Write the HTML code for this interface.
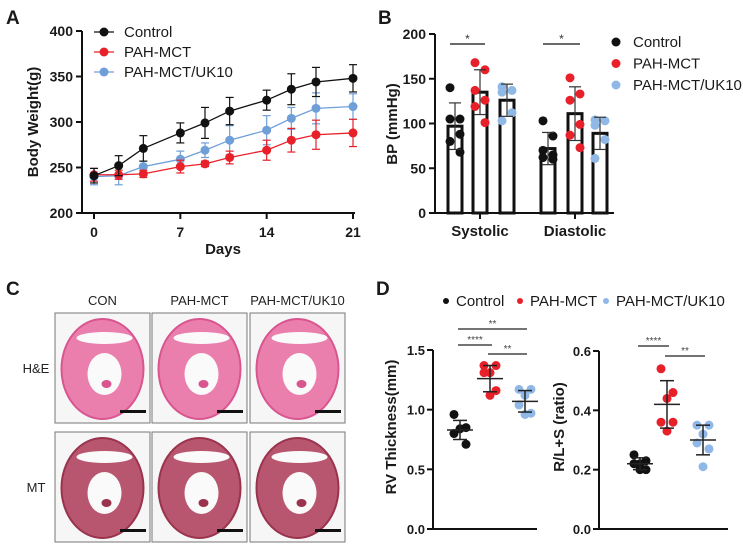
<!DOCTYPE html>
<html><head><meta charset="utf-8">
<style>
html,body{margin:0;padding:0;background:#fff;}
svg{display:block;font-family:"Liberation Sans",Arial,sans-serif;}
.tick{font-size:14px;font-weight:bold;fill:#1a1a1a;}
.tickd{font-size:13px;font-weight:bold;fill:#1a1a1a;}
.ttl{font-size:15px;font-weight:bold;fill:#1a1a1a;}
.leg{font-size:15px;fill:#1a1a1a;}
.lett{font-size:19px;font-weight:bold;fill:#1a1a1a;}
</style></head>
<body>
<svg id="fig" width="743" height="546" viewBox="0 0 743 546">
<text class="lett" x="6" y="24">A</text>
<text class="lett" x="378" y="24">B</text>
<text class="lett" x="6" y="295">C</text>
<text class="lett" x="376" y="295">D</text>
<g id="pa"></g>
<g id="pb"></g>
<g id="pc"></g>
<g id="pd"></g>
</svg>
<script>
// ---------- DATA ----------
const days = [0,2,4,7,9,11,14,16,18,21];
const ctrlW = [241,252,271,288,299,312,324,336,344,348];
const ctrlE = [8,11,14,11,17,15,11,17,16,15];
const mctW = [242,242,243,251,254,261,269,280,286,288];
const mctE = [7,5,4,7,3,7,11,13,16,15];
const ukW = [240,241,251,259,269,280,291,304,315,317];
const ukE = [9,10,6,9,8,16,16,12,17,14];
const aYTicks = [200,250,300,350,400];
const aXTicks = [0,7,14,21];

const bpCategories = ["Systolic","Diastolic"];
const bpMeans = [[97,135,126],[72,111,89]];
const bpSD = [[26,25,18],[18,30,18]];
const bpPts = [
 [[140,105,105,88,80,68],[168,160,137,126,119,101],[141,137,135,112,103]],
 [[103,86,70,65,62,60],[151,133,126,99,87,73],[104,103,98,82,61]]
];
const bYTicks = [0,50,100,150,200];

const rvMeans = [0.83,1.26,1.07];
const rvSD = [0.08,0.11,0.09];
const rvPts = [[0.96,0.85,0.84,0.80,0.71],[1.37,1.37,1.31,1.31,1.16,1.12],[1.17,1.17,1.12,1.04,0.97,0.96]];
const rvTicks = [0.0,0.5,1.0,1.5];
const rlMeans = [0.22,0.42,0.30];
const rlSD = [0.02,0.08,0.05];
const rlPts = [[0.25,0.23,0.22,0.22,0.20,0.20],[0.54,0.46,0.44,0.36,0.36,0.33],[0.35,0.35,0.32,0.29,0.27,0.21]];
const rlTicks = [0.0,0.2,0.4,0.6];

const groups = ["Control","PAH-MCT","PAH-MCT/UK10"];
const colors = ["#111111","#e8202a","#8fb8e6"];
const lineColors = ["#111111","#e8202a","#6f9fd8"];

// ---------- HELPERS ----------
const NS="http://www.w3.org/2000/svg";
function mk(parent,tag,attrs,text){const e=document.createElementNS(NS,tag);for(const k in attrs)e.setAttribute(k,attrs[k]);if(text!==undefined)e.textContent=text;parent.appendChild(e);return e;}
function lin(d0,d1,r0,r1){return v=>r0+(v-d0)*(r1-r0)/(d1-d0);}

// ---------- PANEL A ----------
(function(){
 const g=document.getElementById('pa');
 const x=lin(0,21,94,353), y=lin(200,400,213,31);
 let e;
 e=mk(g,'line',{x1:82,y1:31,x2:82,y2:213,stroke:'#111','stroke-width':2});
 
 
 e=mk(g,'line',{x1:82,y1:213,x2:355,y2:213,stroke:'#111','stroke-width':2});
 
 
 aYTicks.forEach(t=>{mk(g,'line',{x1:76,x2:82,y1:y(t),y2:y(t),stroke:'#111','stroke-width':2});
  e=mk(g,'text',{class:'tick',x:73,y:y(t)+5,'text-anchor':'end'},t);
  
  });
 aXTicks.forEach(t=>{mk(g,'line',{x1:x(t),x2:x(t),y1:213,y2:219,stroke:'#111','stroke-width':2});
  e=mk(g,'text',{class:'tick',x:x(t),y:237,'text-anchor':'middle'},t);
  
  });
 e=mk(g,'text',{class:'ttl',x:223,y:254,'text-anchor':'middle'},'Days');
 
 
 e=mk(g,'text',{class:'ttl',x:0,y:0,'text-anchor':'middle',transform:'translate(38,122) rotate(-90)'},'Body Weight(g)');
 
 
 const series=[[ctrlW,ctrlE],[mctW,mctE],[ukW,ukE]];
 [2,1,0].forEach(si=>{
  const [v,er]=series[si];const c=lineColors[si];
  const sg=mk(g,'g',{});
  
  
  mk(sg,'polyline',{points:days.map((d,i)=>x(d)+','+y(v[i])).join(' '),fill:'none',stroke:c,'stroke-width':1.3});
  days.forEach((d,i)=>{
   mk(sg,'line',{x1:x(d),x2:x(d),y1:y(v[i]-er[i]),y2:y(v[i]+er[i]),stroke:c,'stroke-width':1.2});
   mk(sg,'line',{x1:x(d)-4,x2:x(d)+4,y1:y(v[i]+er[i]),y2:y(v[i]+er[i]),stroke:c,'stroke-width':1.2});
   mk(sg,'line',{x1:x(d)-4,x2:x(d)+4,y1:y(v[i]-er[i]),y2:y(v[i]-er[i]),stroke:c,'stroke-width':1.2});
   const p=mk(sg,'circle',{cx:x(d),cy:y(v[i]),r:4.5,fill:c});
   
   
  });
 });
 groups.forEach((n,i)=>{const yy=32+i*20;
  const lg=mk(g,'g',{});
  
  
  mk(lg,'line',{x1:94,x2:114,y1:yy,y2:yy,stroke:lineColors[i],'stroke-width':1.3});
  mk(lg,'circle',{cx:104,cy:yy,r:4.5,fill:lineColors[i]});
  mk(lg,'text',{class:'leg',x:124,y:yy+5},n);});
})();

// ---------- PANEL B ----------
(function(){
 const g=document.getElementById('pb');
 const y=lin(0,200,213,34);
 const cx=[[455,480,507],[548,575,600]];
 const catX=[480,575];
 let e;
 e=mk(g,'line',{x1:435,y1:34,x2:435,y2:213,stroke:'#111','stroke-width':2});
 
 
 e=mk(g,'line',{x1:435,y1:213,x2:614,y2:213,stroke:'#111','stroke-width':2});
 
 
 bYTicks.forEach(t=>{mk(g,'line',{x1:429,x2:435,y1:y(t),y2:y(t),stroke:'#111','stroke-width':2});
  e=mk(g,'text',{class:'tick',x:426,y:y(t)+5,'text-anchor':'end'},t);
  
  });
 bpCategories.forEach((c,ci)=>{
  mk(g,'line',{x1:catX[ci],x2:catX[ci],y1:213,y2:219,stroke:'#111','stroke-width':2});
  e=mk(g,'text',{class:'ttl',x:catX[ci],y:236,'text-anchor':'middle'},c);
  
  
  for(let gi=0;gi<3;gi++){
   const m=bpMeans[ci][gi],s=bpSD[ci][gi],X=cx[ci][gi];
   const b=mk(g,'rect',{x:X-7,y:y(m),width:14,height:213-y(m),fill:'#fff',stroke:'#111','stroke-width':3});
   
   
   bpPts[ci][gi].forEach((p,pi)=>{const off=(pi%2?5:-5);
    const d=mk(g,'circle',{cx:X+off,cy:y(p),r:4.5,fill:colors[gi]});
    
    });
   mk(g,'line',{x1:X,x2:X,y1:y(m-s),y2:y(m+s),stroke:'#333','stroke-width':1.2});
   mk(g,'line',{x1:X-6,x2:X+6,y1:y(m+s),y2:y(m+s),stroke:'#333','stroke-width':1.2});
   mk(g,'line',{x1:X-6,x2:X+6,y1:y(m-s),y2:y(m-s),stroke:'#333','stroke-width':1.2});
  }
  e=mk(g,'line',{x1:cx[ci][0]-5,x2:cx[ci][1]+5,y1:44,y2:44,stroke:'#111','stroke-width':1.2});
  
  
  mk(g,'text',{x:(cx[ci][0]+cx[ci][1])/2,y:43,'text-anchor':'middle','font-size':'12px',fill:'#333'},'*');
 });
 e=mk(g,'text',{class:'ttl',x:0,y:0,'text-anchor':'middle',transform:'translate(397,124) rotate(-90)'},'BP (mmHg)');
 
 
 groups.forEach((n,i)=>{const yy=42+i*21.5;
  const lg=mk(g,'g',{});
  
  
  mk(lg,'circle',{cx:616,cy:yy,r:4.5,fill:colors[i]});
  mk(lg,'text',{class:'leg',x:633,y:yy+5},n);});
})();

// ---------- PANEL C ----------
(function(){
 const g=document.getElementById('pc');
 const colX=[55,152,250], colW=95, rowY=[313,432], rowH=110;
 const heads=["CON","PAH-MCT","PAH-MCT/UK10"], rows=["H&E","MT"];
 const fills=[["#ea7fae","#d9558f"],["#b9566f","#9a334d"]];
 let e;
 heads.forEach((h,i)=>{e=mk(g,'text',{x:colX[i]+colW/2,y:305,'text-anchor':'middle','font-size':'13px',fill:'#222'},h);
  
  });
 rows.forEach((r,ri)=>{
  e=mk(g,'text',{x:36,y:rowY[ri]+rowH/2+5,'text-anchor':'middle','font-size':'13px',fill:'#222'},r);
  
  
  heads.forEach((h,ci)=>{
   const X=colX[ci],Y=rowY[ri];
   const im=mk(g,'g',{});
   
   
   mk(im,'rect',{x:X,y:Y,width:colW,height:rowH,fill:'#f6f6f6',stroke:'#777','stroke-width':1});
   const ecx=X+colW/2, ecy=Y+rowH/2;
   mk(im,'ellipse',{cx:ecx,cy:ecy+1,rx:41,ry:50,fill:fills[ri][0],stroke:fills[ri][1],'stroke-width':2});
   mk(im,'ellipse',{cx:ecx+2,cy:ecy-30,rx:28,ry:6,fill:'#fafafa'});
   mk(im,'ellipse',{cx:ecx+2,cy:ecy+6,rx:17,ry:21,fill:'#fafafa'});
   mk(im,'ellipse',{cx:ecx+4,cy:ecy+16,rx:5,ry:4,fill:fills[ri][1]});
   mk(im,'rect',{x:X+colW-30,y:Y+rowH-13,width:26,height:3,fill:'#111'});
  });
 });
})();

// ---------- PANEL D ----------
function dotPlot(g,prefix,axX,yTop,yBot,xEnd,tickVals,dTop,xs,means,sds,pts,title,titleX,dec,sig){
 const y=lin(0,dTop,yBot,yTop);
 let e;
 e=mk(g,'line',{x1:axX,y1:yTop,x2:axX,y2:yBot,stroke:'#111','stroke-width':2});
 
 
 e=mk(g,'line',{x1:axX,y1:yBot,x2:xEnd,y2:yBot,stroke:'#111','stroke-width':2});
 
 
 tickVals.forEach(t=>{mk(g,'line',{x1:axX-6,x2:axX,y1:y(t),y2:y(t),stroke:'#111','stroke-width':2});
  e=mk(g,'text',{class:'tickd',x:axX-8,y:y(t)+5,'text-anchor':'end'},t.toFixed(dec));
  
  });
 e=mk(g,'text',{class:'ttl',x:0,y:0,'text-anchor':'middle',transform:'translate('+titleX+',427) rotate(-90)'},title);
 
 
 for(let gi=0;gi<3;gi++){
  const X=xs[gi];
  pts[gi].forEach((p,pi)=>{const off=[-6,6,0,-6,6,0][pi%6];
   const d=mk(g,'circle',{cx:X+off,cy:y(p),r:4.5,fill:colors[gi]});
   
   });
  mk(g,'line',{x1:X-13,x2:X+13,y1:y(means[gi]),y2:y(means[gi]),stroke:'#222','stroke-width':1.5});
  mk(g,'line',{x1:X,x2:X,y1:y(means[gi]-sds[gi]),y2:y(means[gi]+sds[gi]),stroke:'#222','stroke-width':1.5});
  mk(g,'line',{x1:X-7,x2:X+7,y1:y(means[gi]+sds[gi]),y2:y(means[gi]+sds[gi]),stroke:'#222','stroke-width':1.5});
  mk(g,'line',{x1:X-7,x2:X+7,y1:y(means[gi]-sds[gi]),y2:y(means[gi]-sds[gi]),stroke:'#222','stroke-width':1.5});
 }
 sig.forEach(s=>{
  e=mk(g,'line',{x1:xs[s[0]]-2,x2:xs[s[1]]+2,y1:s[2],y2:s[2],stroke:'#222','stroke-width':1.2});
  
  
  mk(g,'text',{x:(xs[s[0]]+xs[s[1]])/2,y:s[2]-2,'text-anchor':'middle','font-size':'10px',fill:'#444'},s[3]);
 });
}
(function(){
 const g=document.getElementById('pd');
 groups.forEach((n,i)=>{const xs=[446,520,606];
  const lg=mk(g,'g',{});
  
  
  mk(lg,'circle',{cx:xs[i],cy:301,r:3,fill:colors[i]});
  mk(lg,'text',{class:'leg',x:xs[i]+10,y:306},n);});
 dotPlot(g,'d-rv',433,350,529,537,rvTicks,1.5,[460,490,525],rvMeans,rvSD,rvPts,'RV Thickness(mm)',396,1,
  [[0,2,329,'**'],[0,1,345,'****'],[1,2,354,'**']]);
 dotPlot(g,'d-rl',599,351,529,728,rlTicks,0.6,[640,667,703],rlMeans,rlSD,rlPts,'R/L+S (ratio)',564,1,
  [[0,1,346,'****'],[1,2,356,'**']]);
})();
</script>
</body></html>
